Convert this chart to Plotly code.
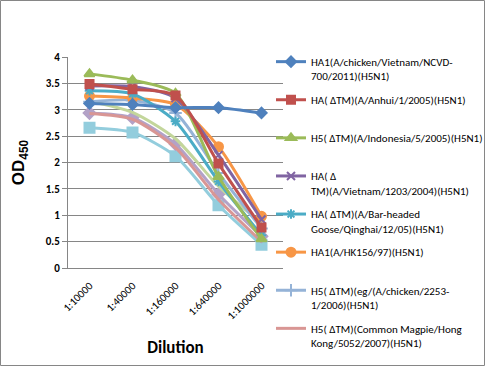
import plotly.graph_objects as go

dilutions = ["1:10000", "1:40000", "1:160000", "1:640000", "1:1000000"]
y_tick_values = [0, 0.5, 1, 1.5, 2, 2.5, 3, 3.5, 4]
y_tick_labels = ["0", "0.5", "1", "1.5", "2", "2.5", "3", "3.5", "4"]

s1_name = "HA1(A/chicken/Vietnam/NCVD-<br>700/2011)(H5N1)"
s1_vals = [3.12, 3.10, 3.04, 3.04, 2.94]
s2_name = "HA( ΔTM)(A/Anhui/1/2005)(H5N1)"
s2_vals = [3.49, 3.39, 3.27, 1.98, 0.77]
s3_name = "H5( ΔTM)(A/Indonesia/5/2005)(H5N1)"
s3_vals = [3.68, 3.56, 3.31, 1.73, 0.55]
s4_name = "HA( Δ<br>TM)(A/Vietnam/1203/2004)(H5N1)"
s4_vals = [3.45, 3.44, 3.22, 2.14, 0.92]
s5_name = "HA( ΔTM)(A/Bar-headed<br>Goose/Qinghai/12/05)(H5N1)"
s5_vals = [3.36, 3.30, 2.78, 1.64, 0.62]
s6_name = "HA1(A/HK156/97)(H5N1)"
s6_vals = [3.26, 3.22, 3.10, 2.30, 0.98]
s7_name = "H5( ΔTM)(eg/(A/chicken/2253-<br>1/2006)(H5N1)"
s7_vals = [3.15, 3.18, 2.94, 1.80, 0.75]
s8_name = "H5( ΔTM)(Common Magpie/Hong<br>Kong/5052/2007)(H5N1)"
s8_vals = [2.93, 2.82, 2.28, 1.30, 0.50]
s9_name = "Series 9"
s9_vals = [3.16, 2.95, 2.45, 1.55, 0.85]
s10_name = "Series 10"
s10_vals = [2.94, 2.85, 2.35, 1.40, 0.60]
s11_name = "Series 11"
s11_vals = [2.66, 2.57, 2.12, 1.19, 0.44]

series = [
    (s1_name, s1_vals, "#4F81BD", "diamond", 8, True),
    (s2_name, s2_vals, "#C0504D", "square", 8, True),
    (s3_name, s3_vals, "#9BBB59", "triangle-up", 9, True),
    (s4_name, s4_vals, "#8064A2", "x-thin-open", 8, True),
    (s5_name, s5_vals, "#4BACC6", "asterisk-open", 8, True),
    (s6_name, s6_vals, "#F79646", "circle", 9, True),
    (s7_name, s7_vals, "#95B3D7", "cross-thin-open", 9, True),
    (s8_name, s8_vals, "#D99694", None, 0, True),
    (s9_name, s9_vals, "#C3D69B", None, 0, False),
    (s10_name, s10_vals, "#B3A2C7", "diamond", 9, False),
    (s11_name, s11_vals, "#93CDDD", "square", 10, False),
]

font_main = "Carlito, Lato, sans-serif"

fig = go.Figure()
order = [10, 9, 8, 7, 6, 5, 4, 3, 2, 1, 0]
traces = {}
for i, (name, vals, color, sym, size, show) in enumerate(series):
    label = name if "<br>" in name else name + "<br>\u00a0"
    if sym is None:
        mode = "lines"
        marker = None
    else:
        mode = "lines+markers"
        marker = dict(symbol=sym, size=size, color=color,
                      line=dict(color=color, width=2))
    traces[i] = go.Scatter(
        x=dilutions, y=vals, name=label, mode=mode,
        line=dict(color=color, width=3, shape="spline", smoothing=0.7),
        marker=marker, showlegend=show, legendgroup="g%d" % i,
        legendrank=i + 1,
    )
for i in order:
    fig.add_trace(traces[i])

fig.update_layout(
    width=485, height=366,
    margin=dict(l=68, r=202, t=57, b=98, autoexpand=False),
    paper_bgcolor="white", plot_bgcolor="white",
    font=dict(family=font_main, color="black", size=11),
    showlegend=True,
    legend=dict(
        xref="container", yref="container",
        x=271 / 485, xanchor="left", y=1 - 48 / 366, yanchor="top",
        font=dict(family=font_main, size=11, color="black"),
        tracegroupgap=6.5, valign="top", itemwidth=30,
        bgcolor="rgba(0,0,0,0)", maxheight=600,
    ),
    xaxis=dict(
        type="category", range=[-0.5, 4.5], tickangle=-45,
        tickfont=dict(family=font_main, size=11, color="black"),
        showgrid=False, showline=True, linecolor="#868686", linewidth=1,
        ticks="", zeroline=False, ticklabelstandoff=6, automargin=False,
        title=dict(text="<b>Dilution</b>", font=dict(family=font_main, size=17, color="black"),
                   standoff=19),
    ),
    yaxis=dict(
        range=[0, 4], tickvals=y_tick_values, ticktext=["<b>%s</b>" % t for t in y_tick_labels],
        tickfont=dict(family=font_main, size=11, color="black"),
        showgrid=True, gridcolor="#868686", gridwidth=1,
        showline=True, linecolor="#868686", linewidth=1,
        ticks="outside", ticklen=5, tickcolor="#868686",
        zeroline=False, automargin=False,
        title=dict(text="<b>OD<sub>450</sub></b>",
                   font=dict(family="Liberation Sans, Arial, sans-serif", size=17, color="black"),
                   standoff=16),
    ),
    shapes=[dict(type="rect", xref="paper", yref="paper",
                 x0=-67.5 / 215, x1=(484.5 - 68) / 215,
                 y0=(268 - 365.5) / 211, y1=(268 - 0.5) / 211,
                 line=dict(color="#868686", width=1), layer="below")],
)

fig.write_html("out.html", config={"displayModeBar": False},
               post_script="document.body.style.margin='0px';")
